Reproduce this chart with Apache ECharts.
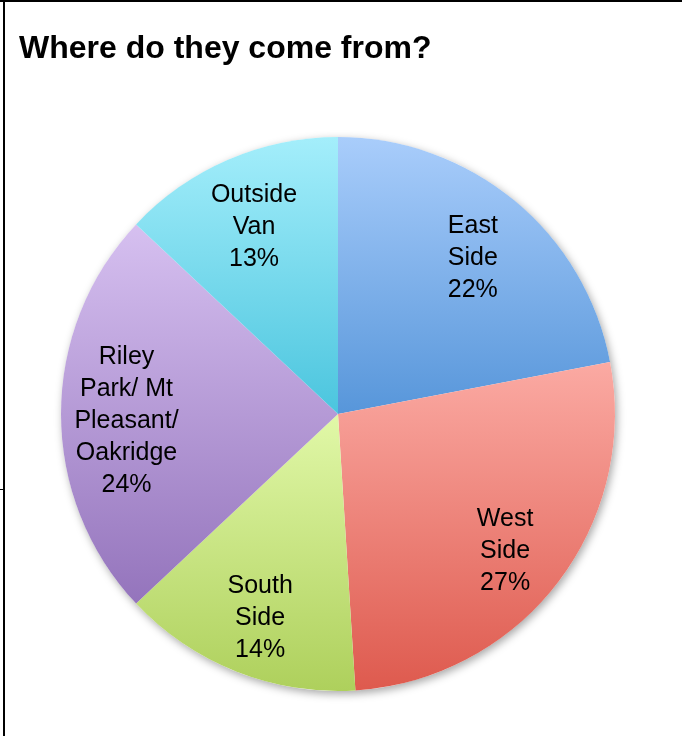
<!DOCTYPE html>
<html>
<head>
    <meta charset="utf-8">
    <title>Where do they come from?</title>
    <script src="https://cdn.jsdelivr.net/npm/echarts@6/dist/echarts.min.js"></script>
    <style>
        html, body { margin: 0; padding: 0; background: #fff; }
        #main { width: 682px; height: 736px; }
    </style>
</head>
<body>
<div id="main"></div>
<script type="text/javascript">
    var areas = ['East\nSide', 'West\nSide', 'South\nSide', 'Riley\nPark/ Mt\nPleasant/\nOakridge', 'Outside\nVan'];
    var shares = [22, 27, 14, 24, 13];
    // top / bottom colour of each slice gradient
    var topColors = ['#a9cdfb', '#fbaaa3', '#e1f8a8', '#d6c0f0', '#a4eefb'];
    var bottomColors = ['#5796da', '#de5a4e', '#aed05c', '#9474bc', '#4bc5de'];

    var data = [];
    for (var i = 0; i < areas.length; i++) {
        data.push({
            name: areas[i],
            value: shares[i],
            itemStyle: {
                color: {
                    type: 'linear', x: 0, y: 0, x2: 0, y2: 1,
                    colorStops: [
                        {offset: 0, color: topColors[i]},
                        {offset: 1, color: bottomColors[i]}
                    ]
                }
            }
        });
    }

    var center = [338, 414];
    var option = {
        backgroundColor: '#fff',
        animation: false,
        title: {
            text: 'Where do they come from?',
            left: 14,
            top: 28,
            textStyle: {fontFamily: 'Liberation Sans', fontWeight: 'bold', fontSize: 32, color: '#000'}
        },
        graphic: [
            {type: 'rect', shape: {x: 0, y: 0, width: 682, height: 2}, style: {fill: '#000'}},
            {type: 'rect', shape: {x: 3, y: 0, width: 2, height: 736}, style: {fill: '#000'}},
            {type: 'rect', shape: {x: 0, y: 489, width: 4, height: 1}, style: {fill: '#000'}}
        ],
        series: [
            {
                // shadow under the whole disc
                type: 'pie',
                silent: true,
                center: center,
                radius: [0, 277],
                z: 1,
                label: {show: false},
                itemStyle: {color: '#fff', shadowBlur: 8, shadowOffsetX: 2, shadowOffsetY: 3, shadowColor: 'rgba(0,0,0,0.35)'},
                data: [{value: 1, name: ''}]
            },
            {
                type: 'pie',
                silent: true,
                center: center,
                radius: [0, 277],
                startAngle: 90,
                clockwise: true,
                z: 2,
                label: {show: false},
                labelLine: {show: false},
                itemStyle: {borderWidth: 0},
                data: data
            },
            {
                // label ring: puts the labels at about 3/4 of the radius
                type: 'pie',
                silent: true,
                center: center,
                radius: [140, 277],
                startAngle: 90,
                clockwise: true,
                z: 3,
                percentPrecision: 0,
                itemStyle: {color: 'rgba(0,0,0,0)'},
                label: {
                    show: true,
                    position: 'inside',
                    formatter: '{b}\n{d}%',
                    fontFamily: 'Liberation Sans',
                    fontSize: 25,
                    lineHeight: 32,
                    offset: [0, 7],
                    color: '#000',
                    align: 'center'
                },
                labelLine: {show: false},
                data: areas.map(function (a, i) { return {name: a, value: shares[i]}; })
            }
        ]
    };

    var myChart = echarts.init(document.getElementById('main'));
    myChart.setOption(option);
</script>
</body>
</html>
